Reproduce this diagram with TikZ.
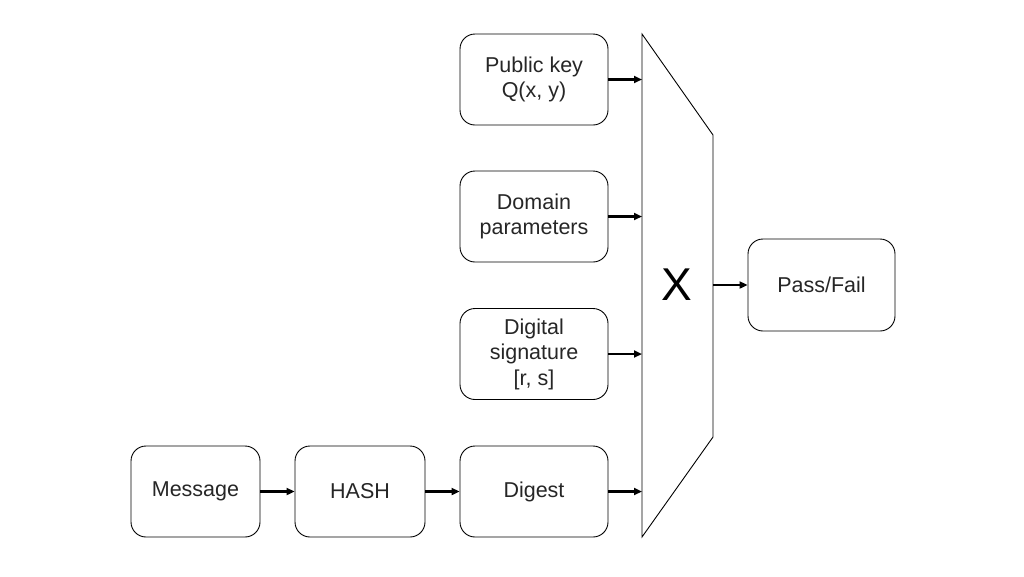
\documentclass[tikz,border=0pt]{standalone}
\usepackage{fontspec}
\setmainfont{Liberation Sans}
\usetikzlibrary{arrows.meta}
\begin{document}
\begin{tikzpicture}[x=1pt,y=-1pt,
  box/.style={draw=black, line width=0.9pt, rounded corners=15pt, minimum height=91pt, align=center, text=black!85, font=\fontsize{21.5}{25.5}\selectfont, inner sep=0pt},
  arr/.style={line width=2.2pt, -{Triangle[length=8pt,width=7pt]}},
  trap/.style={draw=black, line width=0.9pt}]
\useasboundingbox (0,0) rectangle (1024,576);
\node[box, minimum width=148pt] (pk) at (534,79.5) {Public key\\Q(x, y)};
\node[box, minimum width=148pt] (dp) at (534,216.5) {Domain\\parameters};
\node[box, minimum width=148pt] (ds) at (534,354) {Digital\\signature\\{[r, s]}};
\node[box, minimum width=148pt] (dg) at (534,491.5) {Digest};
\node[box, minimum width=130pt] (hs) at (360,491.5) {HASH};
\node[box, minimum width=129pt] (ms) at (195.5,491.5) {Message};
\node[box, minimum width=147pt, minimum height=92pt] (pf) at (821.5,285) {Pass/Fail};
\coordinate (tl) at (642,34);
\coordinate (tr) at (713,135);
\coordinate (br) at (713,437);
\coordinate (bl) at (642,537);
\draw[trap] (tl) -- (tr) -- (br) -- (bl) -- cycle;
\node[font=\fontsize{46}{50}\selectfont, inner sep=0pt] (X) at (677,285) {X};
\draw[arr] (pk) -- (pk -| tl);
\draw[arr] (dp) -- (dp -| tl);
\draw[arr] (ds) -- (ds -| tl);
\draw[arr] (dg) -- (dg -| tl);
\draw[arr] (ms) -- (hs);
\draw[arr] (hs) -- (dg);
\draw[arr] (pf -| tr) -- (pf);
\end{tikzpicture}
\end{document}
